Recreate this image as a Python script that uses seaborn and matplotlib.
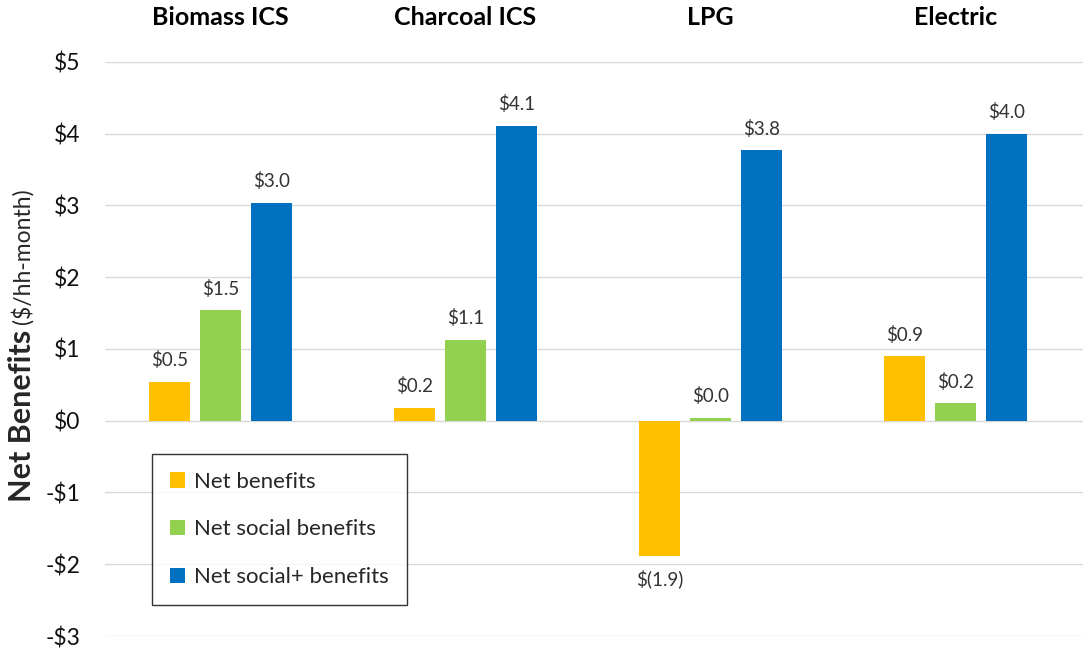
import matplotlib
matplotlib.use("Agg")
import matplotlib.pyplot as plt
import numpy as np
import pandas as pd
import seaborn as sns

stoves = ["Biomass ICS", "Charcoal ICS", "LPG", "Electric"]
series = ["Net benefits", "Net social benefits", "Net social+ benefits"]
net_benefits = [0.54, 0.18, -1.89, 0.90]
net_social = [1.54, 1.13, 0.04, 0.24]
net_social_plus = [3.04, 4.11, 3.77, 4.00]
colors = ["#FFC000", "#92D050", "#0070C0"]
y_ticks = [-3, -2, -1, 0, 1, 2, 3, 4, 5]


def money(v: float) -> str:
    if v < -0.05:
        return f"$({abs(v):.1f})"
    return f"${abs(v):.1f}"


def tick_money(v: float) -> str:
    return f"-${abs(v):.0f}" if v < 0 else f"${v:.0f}"


df = pd.DataFrame({
    "stove": stoves * 3,
    "series": [s for s in series for _ in stoves],
    "value": net_benefits + net_social + net_social_plus,
})

sns.set_theme(style="white")
plt.rcParams["font.family"] = ["Lato", "DejaVu Sans"]

fig = plt.figure(figsize=(10.83, 6.51), dpi=100)
ax = fig.add_axes([0.097, 0.023, 0.903, 0.882])

sns.barplot(
    data=df, x="stove", y="value", hue="series",
    order=stoves, hue_order=series, palette=colors,
    width=0.625, gap=0.2, saturation=1, errorbar=None,
    linewidth=0, ax=ax,
)

for container, vals in zip(ax.containers, [net_benefits, net_social, net_social_plus]):
    ax.bar_label(container, labels=[money(v) for v in vals], padding=9,
                 fontsize=13.5, color="#333333")

ax.set_ylim(-3, 5)
ax.set_xlim(-0.47, 3.52)
ax.set_yticks(y_ticks)
ax.set_yticklabels([tick_money(v) for v in y_ticks])
ax.yaxis.grid(True, color="#D9D9D9", linewidth=1)
ax.set_axisbelow(True)
for sp in ax.spines.values():
    sp.set_visible(False)

ax.xaxis.tick_top()
ax.tick_params(axis="x", length=0, pad=24, labelsize=18, labelcolor="black")
for lbl in ax.get_xticklabels():
    lbl.set_fontweight("bold")
ax.tick_params(axis="y", length=0, pad=18, labelsize=16.5, labelcolor="#111111")
ax.set_xlabel("")
ax.set_ylabel("")

# y label: bold part, then the units in regular weight, centred together
label_x = 22 / 1083
gap = 6
bold = fig.text(label_x, 0, "Net Benefits", rotation=90,
                ha="center", va="bottom", fontsize=22, fontweight="bold")
units = fig.text(label_x, 0, "($/hh-month)", rotation=90,
                 ha="center", va="bottom", fontsize=16.5)
fig.canvas.draw()
h_bold = bold.get_window_extent().height
h_units = units.get_window_extent().height
total = h_bold + gap + h_units
centre = 651 - 345.5
start = centre - total / 2
bold.set_y(start / 651)
units.set_y((start + h_bold + gap) / 651)

handles, labels = ax.get_legend_handles_labels()
leg = ax.legend(handles, labels, loc="lower left", bbox_to_anchor=(0.048, 0.054),
                borderaxespad=0, fontsize=16, frameon=True, fancybox=False,
                edgecolor="black", handlelength=0.7, handleheight=0.7,
                labelspacing=1.25, borderpad=0.8, handletextpad=0.4)
leg.get_frame().set_linewidth(1)

fig.savefig("out.png", dpi=100)
